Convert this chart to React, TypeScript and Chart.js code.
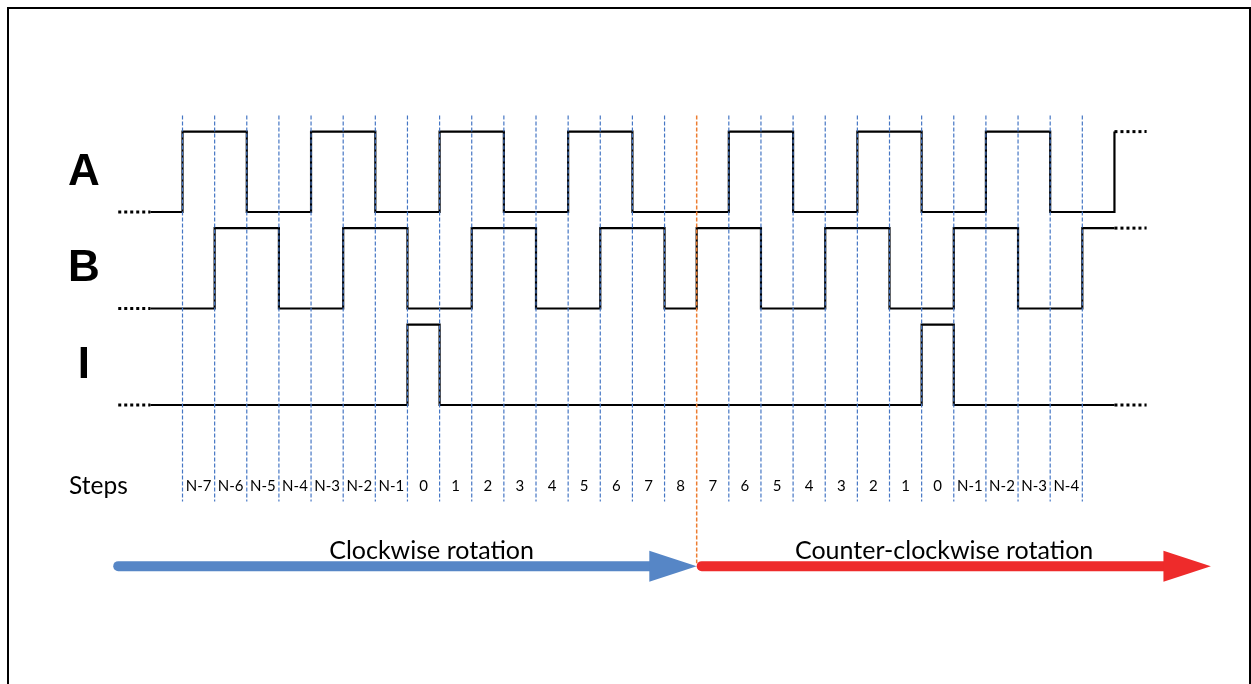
import React, { useEffect, useRef } from "react";
import { Chart, registerables } from "chart.js";

Chart.register(...registerables);

// ---- data ----
const STEP_LABELS = [
  "N-7", "N-6", "N-5", "N-4", "N-3", "N-2", "N-1", "0", "1", "2", "3", "4", "5", "6", "7", "8",
  "7", "6", "5", "4", "3", "2", "1", "0", "N-1", "N-2", "N-3", "N-4",
];
const GRID_POSITIONS = [0, 1, 2, 3, 4, 5, 6, 7, 8, 9, 10, 11, 12, 13, 14, 15, 16, 17, 18, 19, 20, 21, 22, 23, 24, 25, 26, 27, 28];
const DIRECTION_CHANGE = 16;

const SIGNAL_NAMES = ["A", "B", "I"];
const SIGNAL_BASES = [2, 1, 0];
const SIGNAL_START = -1;
const A_LEVELS = [0, 1, 1, 0, 0, 1, 1, 0, 0, 1, 1, 0, 0, 1, 1, 0, 0, 0, 1, 1, 0, 0, 1, 1, 0, 0, 1, 1, 0, 0];
const B_LEVELS = [0, 0, 1, 1, 0, 0, 1, 1, 0, 0, 1, 1, 0, 0, 1, 1, 0, 1, 1, 0, 0, 1, 1, 0, 0, 1, 1, 0, 0, 1];
const I_LEVELS = [0, 0, 0, 0, 0, 0, 0, 0, 1, 0, 0, 0, 0, 0, 0, 0, 0, 0, 0, 0, 0, 0, 0, 0, 1, 0, 0, 0, 0, 0];
const SIGNAL_TAILS = [1, 1, 0];

const ARROW_LABELS = ["Clockwise rotation", "Counter-clockwise rotation"];
const ARROW_FROM = [-2, 16];
const ARROW_TO = [16, 32];
const ARROW_LABEL_X = [7.75, 23.7];
const STEPS_TITLE = "Steps";

// ---- layout / style constants ----
const AMP = 0.833;
const GRID_TOP = 3;
const GRID_BOTTOM = -1;
const ORANGE_BOTTOM = -1.64;
const STEP_LABEL_Y = -0.84;
const ARROW_Y = -1.67;
const ARROW_TEXT_Y = -1.51;
const LETTER_X = -3.07;
const LETTER_DY = 0.41;
const STEPS_X = -3.53;

const BLUE_DASH = "#4576C4";
const ORANGE = "#ED7D31";
const BLUE_ARROW = "#5686C6";
const RED_ARROW = "#EE2B2B";

function buildSolid(levels: number[], tail: number, base: number) {
  const pts: { x: number; y: number }[] = [];
  levels.forEach((l, i) => {
    pts.push({ x: SIGNAL_START + i, y: base + AMP * l });
    pts.push({ x: SIGNAL_START + i + 1, y: base + AMP * l });
  });
  pts.push({ x: SIGNAL_START + levels.length, y: base + AMP * tail });
  return pts;
}

export default function App() {
  const ref = useRef<HTMLCanvasElement | null>(null);

  useEffect(() => {
    const canvas = ref.current;
    if (!canvas) return;
    const allLevels = [A_LEVELS, B_LEVELS, I_LEVELS];
    const datasets: any[] = [];

    GRID_POSITIONS.forEach((p) => {
      const isDir = p === DIRECTION_CHANGE;
      datasets.push({
        data: [
          { x: p, y: GRID_TOP },
          { x: p, y: isDir ? ORANGE_BOTTOM : GRID_BOTTOM },
        ],
        showLine: true,
        borderColor: isDir ? ORANGE : BLUE_DASH,
        borderWidth: isDir ? 1.5 : 1.2,
        borderDash: [4, 2],
        pointRadius: 0,
      });
    });

    allLevels.forEach((levels, k) => {
      const base = SIGNAL_BASES[k];
      const tail = SIGNAL_TAILS[k];
      const end = SIGNAL_START + levels.length;
      datasets.push({
        data: buildSolid(levels, tail, base),
        showLine: true,
        borderColor: "#000",
        borderWidth: 2.2,
        pointRadius: 0,
        borderJoinStyle: "miter",
      });
      datasets.push({
        data: [
          { x: SIGNAL_START - 1, y: base + AMP * levels[0] },
          { x: SIGNAL_START, y: base + AMP * levels[0] },
        ],
        showLine: true,
        borderColor: "#000",
        borderWidth: 3,
        borderDash: [3, 3],
        pointRadius: 0,
      });
      datasets.push({
        data: [
          { x: end, y: base + AMP * tail },
          { x: end + 1, y: base + AMP * tail },
        ],
        showLine: true,
        borderColor: "#000",
        borderWidth: 3,
        borderDash: [3, 3],
        pointRadius: 0,
      });
    });

    const annot = {
      id: "annot",
      afterDatasetsDraw(chart: any) {
        const ctx = chart.ctx as CanvasRenderingContext2D;
        const xs = chart.scales.x;
        const ys = chart.scales.y;
        ctx.save();
        // channel letters
        ctx.fillStyle = "#000";
        ctx.textAlign = "center";
        ctx.textBaseline = "middle";
        ctx.font = 'bold 44px "Liberation Sans", Arial, sans-serif';
        SIGNAL_NAMES.forEach((n, k) => {
          ctx.fillText(n, xs.getPixelForValue(LETTER_X), ys.getPixelForValue(SIGNAL_BASES[k] + LETTER_DY));
        });
        // step labels
        ctx.font = '15px Lato, "Open Sans", sans-serif';
        STEP_LABELS.forEach((s, i) => {
          ctx.fillText(s, xs.getPixelForValue(GRID_POSITIONS[i] + 0.5), ys.getPixelForValue(STEP_LABEL_Y));
        });
        ctx.font = '24.5px Lato, "Open Sans", sans-serif';
        ctx.textAlign = "left";
        ctx.fillText(STEPS_TITLE, xs.getPixelForValue(STEPS_X), ys.getPixelForValue(STEP_LABEL_Y));
        // arrows
        const colors = [BLUE_ARROW, RED_ARROW];
        const ay = ys.getPixelForValue(ARROW_Y);
        const headLen = 47.4;
        const headHalf = 15.5;
        ARROW_FROM.forEach((f, i) => {
          const x0 = xs.getPixelForValue(f) + (i === 1 ? 5 : 0);
          const x1 = xs.getPixelForValue(ARROW_TO[i]);
          ctx.strokeStyle = colors[i];
          ctx.fillStyle = colors[i];
          ctx.lineWidth = 10;
          ctx.lineCap = "round";
          ctx.beginPath();
          ctx.moveTo(x0, ay);
          ctx.lineTo(x1 - headLen + 2, ay);
          ctx.stroke();
          ctx.beginPath();
          ctx.moveTo(x1 - headLen, ay - headHalf);
          ctx.lineTo(x1, ay);
          ctx.lineTo(x1 - headLen, ay + headHalf);
          ctx.closePath();
          ctx.fill();
        });
        ctx.fillStyle = "#000";
        ctx.textAlign = "center";
        ctx.font = '25px Lato, "Open Sans", sans-serif';
        ARROW_LABELS.forEach((t, i) => {
          ctx.fillText(t, xs.getPixelForValue(ARROW_LABEL_X[i]), ys.getPixelForValue(ARROW_TEXT_Y));
        });
        ctx.restore();
      },
    };

    const chart = new Chart(canvas, {
      type: "scatter",
      data: { datasets },
      options: {
        responsive: false,
        animation: false,
        events: [],
        layout: { padding: { left: 53.96, right: 8.0, top: 19, bottom: 37.75 } },
        scales: {
          x: { type: "linear", min: -4, max: 33, display: false },
          y: { type: "linear", min: -2.5, max: 4, display: false },
        },
        plugins: { legend: { display: false }, tooltip: { enabled: false } },
      },
      plugins: [annot],
    } as any);
    return () => chart.destroy();
  }, []);

  return (
    <>
      <canvas
        ref={ref}
        width={1251}
        height={684}
        style={{ position: "absolute", left: 0, top: 0, width: 1251, height: 684, display: "block" }}
      />
      <div
        style={{
          position: "absolute",
          left: 7,
          top: 7,
          width: 1244,
          height: 677,
          boxSizing: "border-box",
          border: "2px solid #000",
          borderBottom: "none",
          pointerEvents: "none",
        }}
      />
    </>
  );
}
